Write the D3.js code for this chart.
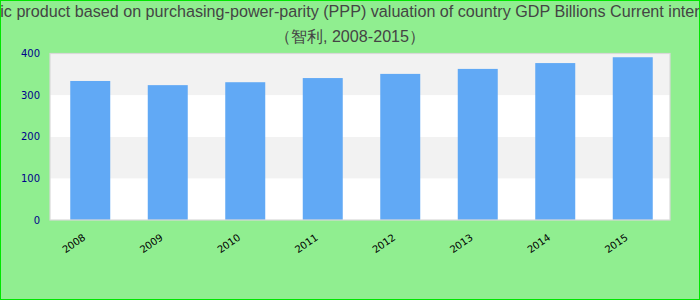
<!DOCTYPE html>
<html lang="en">
<head>
<meta charset="utf-8">
<script src="https://d3js.org/d3.v7.min.js"></script>
<style type="text/css">

body {
	margin: 0;
	background: #90EE90;
}

/* Chart title */
.title {
	font: 16.15px "Liberation Sans", Arial, sans-serif;
	fill: #444;
}

/* Axis label styles */
.ylabel {
	font: 10px "DejaVu Sans", sans-serif;
	fill: #00008B;
}

.xlabel {
	font: 10px "DejaVu Sans", sans-serif;
	fill: #000;
}

</style>
</head>
<body>
<script type="text/javascript">

// Chart data
var years = ["2008", "2009", "2010", "2011", "2012", "2013", "2014", "2015"];
var values = [334, 324, 331, 341, 351, 363, 377, 391];
var yTicks = [0, 100, 200, 300, 400];
var titleLines = [
  "Gross domestic product based on purchasing-power-parity (PPP) valuation of country GDP Billions Current international dollar",
  "（智利, 2008-2015）"
];

//Width and height of chart
var width = 700;
var height = 300;
var margin = {top: 53.5, right: 30, bottom: 80, left: 50};

var svg = d3.select("body")
			.append("svg")
			.attr("width", width)
			.attr("height", height)
			.style("display", "block");

// Background with green border
svg.append("rect")
   .attr("x", 0.5)
   .attr("y", 0.5)
   .attr("width", width - 1)
   .attr("height", height - 1)
   .style("fill", "#90EE90")
   .style("stroke", "#00E600")
   .style("stroke-width", 1);

// Scales
var x = d3.scaleBand()
		  .domain(years)
		  .range([margin.left, width - margin.right])
		  .paddingInner(0.484)
		  .paddingOuter(0.242)
		  .align(0.54);

var y = d3.scaleLinear()
		  .domain([0, 400])
		  .range([height - margin.bottom, margin.top]);

// Plot area background
svg.append("rect")
   .attr("x", margin.left)
   .attr("y", y(400))
   .attr("width", width - margin.left - margin.right)
   .attr("height", y(0) - y(400))
   .style("fill", "#fff");

// Alternating grid bands
svg.selectAll("rect.band")
   .data(yTicks.slice(0, -1))
   .enter()
   .append("rect")
   .attr("class", "band")
   .attr("x", margin.left)
   .attr("y", function(d) { return y(d + 100); })
   .attr("width", width - margin.left - margin.right)
   .attr("height", function(d) { return y(d) - y(d + 100); })
   .style("fill", function(d, i) { return i % 2 == 1 ? "#f2f2f2" : "#fff"; });

// Bars
svg.selectAll("rect.bar")
   .data(values)
   .enter()
   .append("rect")
   .attr("class", "bar")
   .attr("x", function(d, i) { return x(years[i]); })
   .attr("y", function(d) { return y(d); })
   .attr("width", x.bandwidth())
   .attr("height", function(d) { return y(0) - y(d); })
   .style("fill", "#61A9F5");

// Plot border
svg.append("rect")
   .attr("x", margin.left)
   .attr("y", y(400))
   .attr("width", width - margin.left - margin.right)
   .attr("height", y(0) - y(400))
   .style("fill", "none")
   .style("stroke", "#d9d9d9")
   .style("stroke-width", 1.2);

// Y labels
svg.selectAll("text.ylabel")
   .data(yTicks)
   .enter()
   .append("text")
   .attr("class", "ylabel")
   .attr("x", 40)
   .attr("y", function(d) { return y(d); })
   .attr("dy", ".35em")
   .attr("text-anchor", "end")
   .text(function(d) { return d; });

// X labels, rotated
svg.selectAll("text.xlabel")
   .data(years)
   .enter()
   .append("text")
   .attr("class", "xlabel")
   .attr("text-anchor", "end")
   .attr("transform", function(d) {
     return "translate(" + (x(d) + x.bandwidth() / 2 - 4) + "," + 239 + ") rotate(-35)";
   })
   .text(function(d) { return d; });

// Title
svg.selectAll("text.title")
   .data(titleLines)
   .enter()
   .append("text")
   .attr("class", "title")
   .attr("x", width / 2)
   .attr("y", function(d, i) { return 17 + i * 25; })
   .attr("text-anchor", "middle")
   .text(function(d) { return d; });

</script>
</body>
</html>
